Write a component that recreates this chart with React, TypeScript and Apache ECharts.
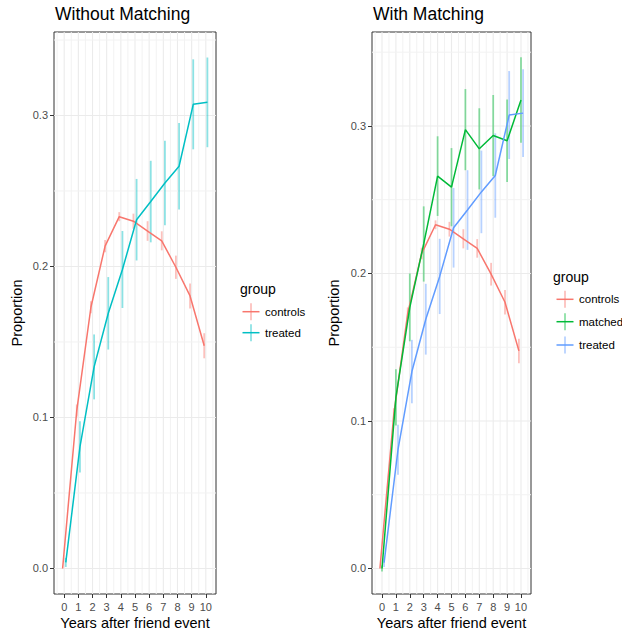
import React, { useEffect, useRef } from "react";
import * as echarts from "echarts";

// ---- data ----
const years = [0, 1, 2, 3, 4, 5, 6, 7, 8, 9, 10];
const controlsMean = [0, 0.1046, 0.173, 0.2135, 0.233, 0.23, 0.2235, 0.217, 0.1995, 0.1805, 0.1475];
const controlsSe = [0, 0.004, 0.004, 0.004, 0.003, 0.005, 0.0065, 0.0063, 0.0077, 0.0083, 0.0083];
const treatedMean = [0.004, 0.0805, 0.1335, 0.169, 0.198, 0.231, 0.243, 0.2553, 0.2664, 0.3074, 0.3087];
const treatedSe = [0.003, 0.017, 0.0215, 0.024, 0.0255, 0.027, 0.027, 0.028, 0.0286, 0.0298, 0.0297];
const matchedMean = [0, 0.116, 0.177, 0.22, 0.266, 0.2585, 0.2975, 0.2845, 0.2935, 0.29, 0.3176];
const matchedSe = [0.002, 0.019, 0.023, 0.0255, 0.027, 0.0265, 0.0275, 0.0275, 0.0275, 0.028, 0.029];

const xTickValues = [0, 1, 2, 3, 4, 5, 6, 7, 8, 9, 10];
const xMinorValues = [-0.5, 0.5, 1.5, 2.5, 3.5, 4.5, 5.5, 6.5, 7.5, 8.5, 9.5, 10.5];
const yTickValues = [0, 0.1, 0.2, 0.3];
const yMinorValues = [0.05, 0.15, 0.25, 0.35];

const RED = "#F8766D";
const TEAL = "#00BFC4";
const GREEN = "#00BA38";
const BLUE = "#619CFF";

const FONT = "'Liberation Sans', Arial, Helvetica, sans-serif";

function rgba(hex: string, a: number) {
  const n = parseInt(hex.slice(1), 16);
  return `rgba(${(n >> 16) & 255},${(n >> 8) & 255},${n & 255},${a})`;
}

function lineSeries(means: number[], offset: number, color: string, idx: number) {
  return {
    type: "line",
    xAxisIndex: idx,
    yAxisIndex: idx,
    data: years.map((x, i) => [x + offset, means[i]]),
    showSymbol: false,
    symbol: "none",
    silent: true,
    lineStyle: { color, width: 1.5 },
    itemStyle: { color },
    z: 4,
  };
}

function errSeries(means: number[], ses: number[], offset: number, color: string, idx: number) {
  return {
    type: "custom",
    xAxisIndex: idx,
    yAxisIndex: idx,
    silent: true,
    encode: { x: 0, y: [1, 2] },
    data: years.map((x, i) => [x + offset, means[i] - ses[i], means[i] + ses[i]]),
    renderItem: (params: any, api: any) => {
      const a = api.coord([api.value(0), api.value(1)]);
      const b = api.coord([api.value(0), api.value(2)]);
      return {
        type: "line",
        shape: { x1: a[0], y1: a[1], x2: b[0], y2: b[1] },
        style: { stroke: rgba(color, 0.45), lineWidth: 1.8 },
      };
    },
    z: 3,
  };
}

function gridSeries(values: number[], vertical: boolean, idx: number, color: string, width: number) {
  return {
    type: "custom",
    xAxisIndex: idx,
    yAxisIndex: idx,
    silent: true,
    data: values.map((v) => (vertical ? [v, 0] : [0, v])),
    renderItem: (params: any, api: any) => {
      const cs = params.coordSys;
      const p = api.coord([api.value(0), api.value(1)]);
      const shape = vertical
        ? { x1: p[0], y1: cs.y, x2: p[0], y2: cs.y + cs.height }
        : { x1: cs.x, y1: p[1], x2: cs.x + cs.width, y2: p[1] };
      return { type: "line", shape, style: { stroke: color, lineWidth: width } };
    },
    z: 1,
  };
}

function xAxis(idx: number, min: number, max: number) {
  return {
    type: "value",
    gridIndex: idx,
    min,
    max,
    axisLine: { show: false, onZero: false },
    splitLine: { show: false },
    axisTick: { show: true, length: 4, customValues: xTickValues, lineStyle: { color: "#333333", width: 1 } },
    axisLabel: {
      customValues: xTickValues,
      color: "#4D4D4D",
      fontSize: 11,
      fontFamily: FONT,
      margin: 7,
    },
  };
}

function yAxis(idx: number, min: number, max: number) {
  return {
    type: "value",
    gridIndex: idx,
    min,
    max,
    axisLine: { show: false, onZero: false },
    splitLine: { show: false },
    axisTick: { show: true, length: 4, customValues: yTickValues, lineStyle: { color: "#333333", width: 1 } },
    axisLabel: {
      customValues: yTickValues,
      formatter: (v: number) => v.toFixed(1),
      color: "#4D4D4D",
      fontSize: 11,
      fontFamily: FONT,
      margin: 6,
    },
  };
}

function text(x: number, y: number, t: string, size: number, extra: any = {}) {
  return {
    type: "text",
    x,
    y,
    silent: true,
    style: {
      text: t,
      fontSize: size,
      fontFamily: FONT,
      fill: "#000000",
      textAlign: "left",
      textVerticalAlign: "middle",
      ...(extra.style || {}),
    },
    ...(extra.el || {}),
  };
}

function legendKey(cx: number, cy: number, color: string) {
  return [
    {
      type: "line",
      silent: true,
      shape: { x1: cx, y1: cy - 8.5, x2: cx, y2: cy + 8.5 },
      style: { stroke: rgba(color, 0.45), lineWidth: 1.8 },
    },
    {
      type: "line",
      silent: true,
      shape: { x1: cx - 8.5, y1: cy, x2: cx + 8.5, y2: cy },
      style: { stroke: color, lineWidth: 1.5 },
    },
  ];
}

export default function App() {
  const ref = useRef<HTMLDivElement>(null);
  useEffect(() => {
    if (!ref.current) return;
    const chart = echarts.init(ref.current, null, { renderer: "svg" });
    const gridStyle = { show: true, borderColor: "#333333", borderWidth: 1, backgroundColor: "#ffffff" };
    const option: any = {
      animation: false,
      backgroundColor: "#ffffff",
      grid: [
        { left: 54, top: 32, width: 162, height: 562, ...gridStyle },
        { left: 372, top: 32, width: 159, height: 562, ...gridStyle },
      ],
      xAxis: [xAxis(0, -0.72, 10.72), xAxis(1, -0.72, 10.72)],
      yAxis: [yAxis(0, -0.0169, 0.3553), yAxis(1, -0.0173, 0.3637)],
      series: [
        gridSeries(xMinorValues, true, 0, "#F2F2F2", 1),
        gridSeries(xTickValues, true, 0, "#EBEBEB", 1.1),
        gridSeries(yMinorValues, false, 0, "#F2F2F2", 1),
        gridSeries(yTickValues, false, 0, "#EBEBEB", 1.1),
        gridSeries(xMinorValues, true, 1, "#F2F2F2", 1),
        gridSeries(xTickValues, true, 1, "#EBEBEB", 1.1),
        gridSeries(yMinorValues, false, 1, "#F2F2F2", 1),
        gridSeries(yTickValues, false, 1, "#EBEBEB", 1.1),
        errSeries(controlsMean, controlsSe, -0.1125, RED, 0),
        errSeries(treatedMean, treatedSe, 0.1125, TEAL, 0),
        lineSeries(controlsMean, -0.1125, RED, 0),
        lineSeries(treatedMean, 0.1125, TEAL, 0),
        errSeries(controlsMean, controlsSe, -0.15, RED, 1),
        errSeries(matchedMean, matchedSe, 0, GREEN, 1),
        errSeries(treatedMean, treatedSe, 0.15, BLUE, 1),
        lineSeries(controlsMean, -0.15, RED, 1),
        lineSeries(matchedMean, 0, GREEN, 1),
        lineSeries(treatedMean, 0.15, BLUE, 1),
      ],
      graphic: [
        text(55, 14, "Without Matching", 17.5),
        text(373, 14, "With Matching", 17.5),
        text(135, 623, "Years after friend event", 14.5, { style: { textAlign: "center" } }),
        text(451.5, 623, "Years after friend event", 14.5, { style: { textAlign: "center" } }),
        text(16.7, 313, "Proportion", 14.5, { style: { textAlign: "center" }, el: { rotation: Math.PI / 2 } }),
        text(334, 313, "Proportion", 14.5, { style: { textAlign: "center" }, el: { rotation: Math.PI / 2 } }),
        // left legend
        text(240, 289, "group", 14),
        ...legendKey(251, 311.7, RED),
        text(265, 311.7, "controls", 11.5),
        ...legendKey(251, 332.7, TEAL),
        text(265, 332.7, "treated", 11.5),
        // right legend
        text(553, 276.5, "group", 14),
        ...legendKey(565, 299.3, RED),
        text(579, 299.3, "controls", 11.5),
        ...legendKey(565, 321.7, GREEN),
        text(579, 321.7, "matched", 11.5),
        ...legendKey(565, 345, BLUE),
        text(579, 345, "treated", 11.5),
      ],
    };
    chart.setOption(option);
    return () => chart.dispose();
  }, []);
  return (
    <div
      ref={ref}
      style={{ position: "absolute", left: 0, top: 0, width: 622, height: 634 }}
    />
  );
}
